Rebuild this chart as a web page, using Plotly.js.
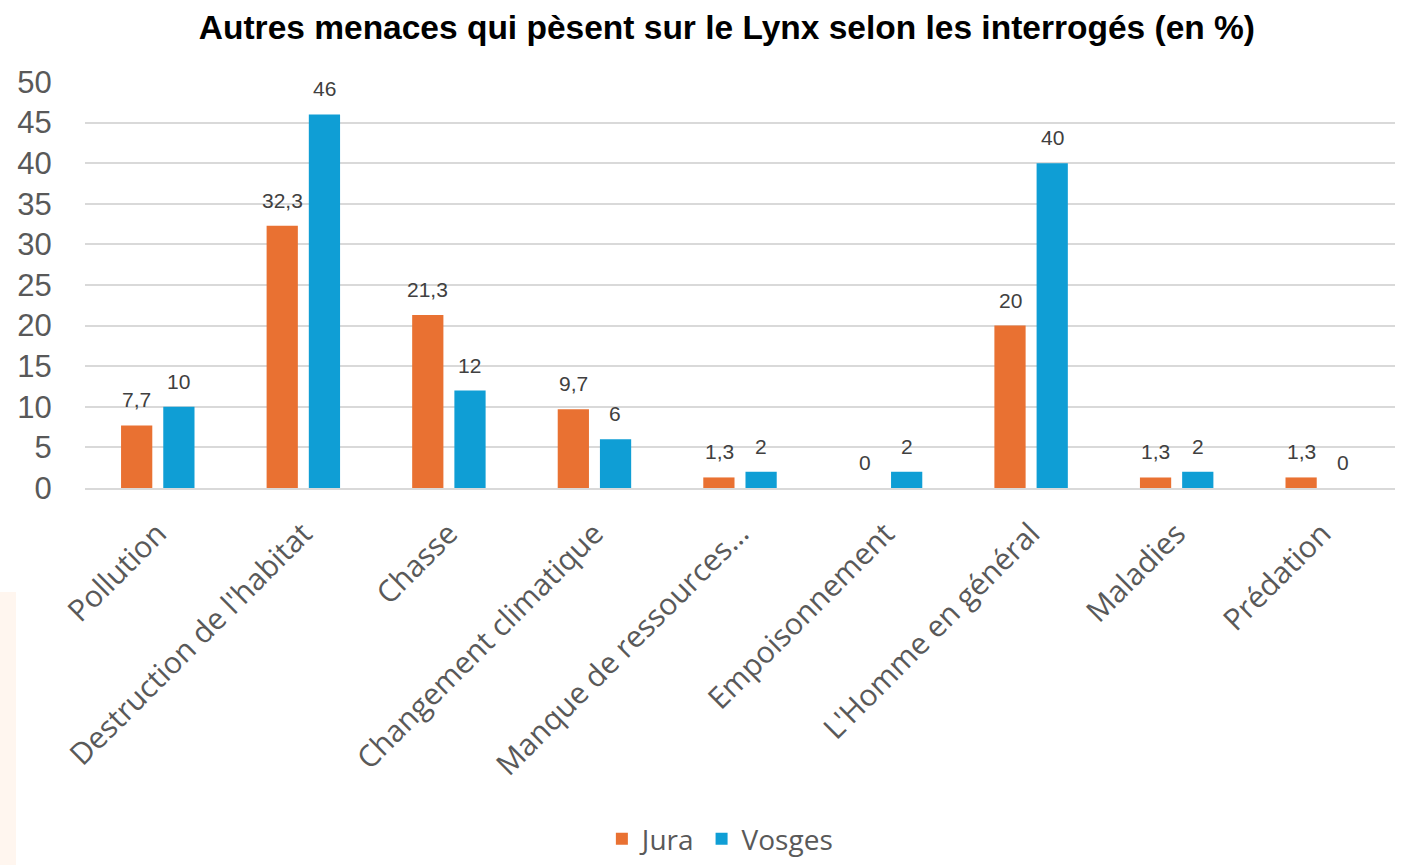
<!DOCTYPE html>
<html>
<head>
<meta charset="utf-8">
<script src="https://cdn.plot.ly/plotly-3.0.1.min.js"></script>
<style>
  html, body { margin: 0; padding: 0; background: #fff; }
  #chart { width: 1406px; height: 865px; }
</style>
</head>
<body>
<div id="chart"></div>
<script>
const categories = [
  "Pollution",
  "Destruction de l'habitat",
  "Chasse",
  "Changement climatique",
  "Manque de ressources…",
  "Empoisonnement",
  "L'Homme en général",
  "Maladies",
  "Prédation"
];
const jura = [7.7, 32.3, 21.3, 9.7, 1.3, 0, 20, 1.3, 1.3];
const vosges = [10, 46, 12, 6, 2, 2, 40, 2, 0];

const orange = "#E97132";
const blue = "#0F9ED5";

function frLabel(v) {
  return String(v).replace(".", ",");
}

function valueLabels(values, shift) {
  return values.map((v, i) => ({
    x: categories[i],
    y: v,
    xref: "x",
    yref: "y",
    text: frLabel(v),
    showarrow: false,
    xshift: shift,
    yshift: 12,
    yanchor: "bottom",
    font: { family: "Liberation Sans, Arial, sans-serif", size: 21, color: "#404040" }
  }));
}

Plotly.newPlot(
  "chart",
  [
    {
      x: categories,
      y: jura,
      type: "bar",
      name: "Jura",
      marker: { color: orange },
      hoverinfo: "x+y"
    },
    {
      x: categories,
      y: vosges,
      type: "bar",
      name: "Vosges",
      marker: { color: blue },
      hoverinfo: "x+y"
    }
  ],
  {
    width: 1406,
    height: 865,
    margin: { t: 82, l: 85, r: 11, b: 377 },
    paper_bgcolor: "#ffffff",
    plot_bgcolor: "#ffffff",
    barmode: "group",
    bargap: 0.42,
    bargroupgap: 0.26,
    title: {
      text: "<b>Autres menaces qui pèsent sur le Lynx selon les interrogés (en %)</b>",
      x: 0.517,
      xref: "container",
      xanchor: "center",
      y: 0.968,
      yref: "container",
      yanchor: "middle",
      font: { family: "Liberation Sans, Arial, sans-serif", size: 33.5, color: "#000000" }
    },
    xaxis: {
      type: "category",
      tickangle: -45,
      tickfont: { family: "Open Sans, sans-serif", size: 30, color: "#595959" },
      showgrid: false,
      showline: true,
      linecolor: "#d9d9d9",
      linewidth: 2,
      ticks: "outside",
      ticklen: 14,
      tickcolor: "rgba(0,0,0,0)",
      fixedrange: true
    },
    yaxis: {
      range: [0, 50],
      dtick: 5,
      tickfont: { family: "Liberation Sans, Arial, sans-serif", size: 31, color: "#595959" },
      showgrid: true,
      gridcolor: "#d9d9d9",
      gridwidth: 2,
      zeroline: false,
      showline: false,
      ticks: "outside",
      ticklen: 26,
      tickcolor: "rgba(0,0,0,0)",
      fixedrange: true
    },
    legend: {
      orientation: "h",
      xref: "container",
      yref: "container",
      x: 0.512,
      xanchor: "center",
      y: 0.03,
      yanchor: "middle",
      font: { family: "Open Sans, sans-serif", size: 28, color: "#595959" },
      itemclick: false,
      itemdoubleclick: false
    },
    annotations: valueLabels(jura, -21).concat(valueLabels(vosges, 21)),
    shapes: [
      {
        type: "rect",
        xref: "paper",
        yref: "paper",
        x0: -0.0649,
        x1: -0.0527,
        y0: -0.256,
        y1: -0.93,
        fillcolor: "#fff6ef",
        line: { width: 0 },
        layer: "below"
      }
    ]
  },
  { displayModeBar: false, responsive: false }
);
</script>
</body>
</html>
